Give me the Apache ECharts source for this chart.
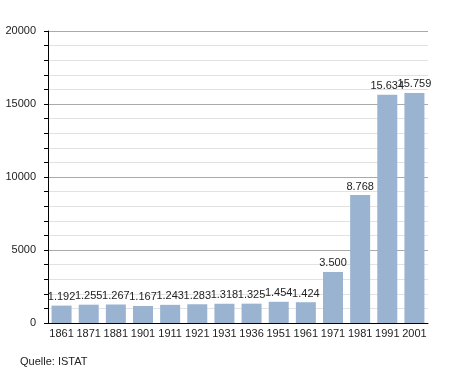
<!DOCTYPE html>
<html>
<head>
<meta charset="utf-8">
<script src="https://cdn.jsdelivr.net/npm/echarts@6/dist/echarts.min.js"></script>
<style>html,body{margin:0;padding:0;background:#fff}#c{width:455px;height:373px}</style>
</head>
<body>
<div id="c"></div>
<script>
var categories = ['1861','1871','1881','1901','1911','1921','1931','1936','1951','1961','1971','1981','1991','2001'];
var population = [1192,1255,1267,1167,1243,1283,1318,1325,1454,1424,3500,8768,15634,15759];
var yTicks = [0,5000,10000,15000,20000];
var source = 'Quelle: ISTAT';

function fmt(v){ return String(v).replace(/\B(?=(\d{3})+(?!\d))/g,'.'); }

var chart = echarts.init(document.getElementById('c'), null, {renderer:'canvas'});
chart.setOption({
  animation:false,
  textStyle:{fontFamily:'Liberation Sans, Arial, sans-serif'},
  grid:{left:48, right:27, top:31, bottom:50},
  graphic:[{type:'text', left:20, top:356, style:{text:source, font:'11px "Liberation Sans", Arial, sans-serif', fill:'#222'}}],
  xAxis:{
    type:'category', data:categories,
    axisLine:{lineStyle:{color:'#000', width:1}},
    axisTick:{show:false},
    axisLabel:{color:'#222', fontSize:11, margin:5, interval:0}
  },
  yAxis:{
    type:'value', min:yTicks[0], max:yTicks[yTicks.length-1], interval:5000,
    axisLine:{show:true, lineStyle:{color:'#000'}},
    axisTick:{show:true, length:4, lineStyle:{color:'#000'}},
    minorTick:{show:true, splitNumber:5, length:4, lineStyle:{color:'#000'}},
    splitLine:{show:true, lineStyle:{color:'#aaa'}},
    minorSplitLine:{show:true, lineStyle:{color:'#e2e2e2'}},
    axisLabel:{color:'#222', fontSize:11, margin:12, formatter:function(v){return String(v);}}
  },
  series:[{
    type:'bar', data:population, barWidth:20,
    itemStyle:{color:'#9ab3d0'},
    label:{show:true, position:'top', color:'#222', fontSize:11, distance:3, formatter:function(p){return fmt(p.value);}}
  }]
});
</script>
</body>
</html>
